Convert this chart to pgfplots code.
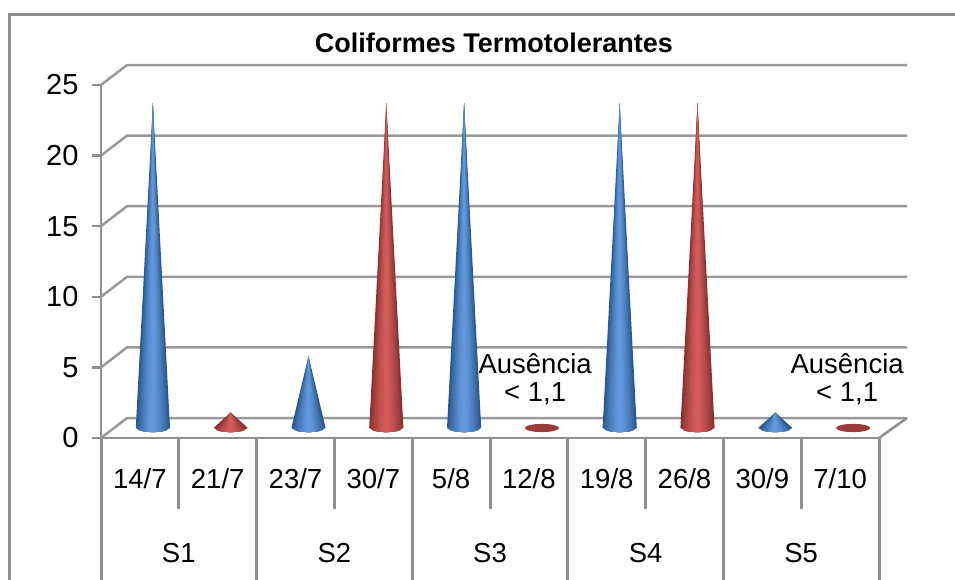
\documentclass[border=0pt]{standalone}
\usepackage{fontspec}
\setmainfont{Liberation Sans}
\usepackage{pgfplots}
\pgfplotsset{compat=1.18}
\definecolor{ax}{HTML}{8E8E8E}
\definecolor{bd}{HTML}{2C5A8E}
\definecolor{bm}{HTML}{6198DC}
\definecolor{rd}{HTML}{8A3331}
\definecolor{rm}{HTML}{D25C59}
\definecolor{rf}{HTML}{963C3A}
\newcommand{\conew}{0.22}
\newcommand{\coneh}{0.29}
% one nested layer: centre, value, fraction of the base, colour
\newcommand{\conelayer}[4]{%
  \pgfmathsetmacro\xa{#1-#3*\conew}\pgfmathsetmacro\xb{#1-0.66*#3*\conew}\pgfmathsetmacro\xc{#1-0.33*#3*\conew}%
  \pgfmathsetmacro\xd{#1+0.33*#3*\conew}\pgfmathsetmacro\xe{#1+0.66*#3*\conew}\pgfmathsetmacro\xf{#1+#3*\conew}%
  \pgfmathsetmacro\ya{-\coneh*sqrt(max(0,1-#3*#3))}%
  \pgfmathsetmacro\yb{-\coneh*sqrt(1-0.4356*#3*#3)}%
  \pgfmathsetmacro\yc{-\coneh*sqrt(1-0.1089*#3*#3)}%
  \addplot[fill=#4,draw=none,forget plot,xshift=13pt,yshift=10pt] coordinates
   {(\xa,\ya)(#1,#2)(\xf,\ya)(\xe,\yb)(\xd,\yc)(#1,-\coneh)(\xc,\yc)(\xb,\yb)};%
}
\newcommand{\cone}[4]{% centre, value, dark, mid
  \conelayer{#1}{#2}{1.00}{#3}%
  \conelayer{#1}{#2}{0.86}{#4!25!#3}%
  \conelayer{#1}{#2}{0.72}{#4!45!#3}%
  \conelayer{#1}{#2}{0.58}{#4!62!#3}%
  \conelayer{#1}{#2}{0.44}{#4!78!#3}%
  \conelayer{#1}{#2}{0.30}{#4!90!#3}%
  \conelayer{#1}{#2}{0.16}{#4}%
}
% a cone of height 0: only its base is seen
\newcommand{\flatcone}[2]{%
  \pgfmathsetmacro\xa{#1-\conew}\pgfmathsetmacro\xb{#1-0.87*\conew}\pgfmathsetmacro\xc{#1-0.5*\conew}%
  \pgfmathsetmacro\xd{#1+0.5*\conew}\pgfmathsetmacro\xe{#1+0.87*\conew}\pgfmathsetmacro\xf{#1+\conew}%
  \pgfmathsetmacro\yb{0.5*\coneh}\pgfmathsetmacro\yc{0.87*\coneh}%
  \addplot[fill=#2,draw=none,forget plot,smooth,xshift=13pt,yshift=10pt] coordinates
   {(\xa,0)(\xb,\yb)(\xc,\yc)(#1,\coneh)(\xd,\yc)(\xe,\yb)(\xf,0)(\xe,-\yb)(\xd,-\yc)(#1,-\coneh)(\xc,-\yc)(\xb,-\yb)(\xa,0)};%
}
\newcommand{\lab}{\fontsize{27.5}{32}\selectfont}
\begin{document}
\begin{tikzpicture}
\useasboundingbox (0,0) rectangle (955pt,580pt);
\begin{axis}[
  at={(101pt,142pt)}, anchor=origin,
  scale only axis, width=778pt, height=353pt,
  xmin=0, xmax=10, ymin=0, ymax=25,
  clip=false, no markers,
  axis lines=left,
  axis line style={draw=ax,line width=2.5pt,-},
  ytick={0,5,10,15,20,25},
  ytick style={draw=ax,line width=2.5pt},
  tick align=outside,
  major tick length=9pt,
  /pgf/number format/assume math mode=true,
  yticklabel style={font=\fontsize{29}{32}\selectfont,xshift=-10pt},
  xtick={0.5,1.5,2.5,3.5,4.5,5.5,6.5,7.5,8.5,9.5},
  xticklabels={14/7,21/7,23/7,30/7,5/8,12/8,19/8,26/8,30/9,7/10},
  xtick style={draw=none},
  xticklabel style={font=\lab,yshift=-18pt},
  extra x ticks={1,3,5,7,9},
  extra x tick labels={S1,S2,S3,S4,S5},
  extra x tick style={tick style={draw=none},tick label style={font=\lab,yshift=-75pt}},
]
% outer frame
\addplot[ax,line width=3pt,forget plot] coordinates {(-1.182,-10.06)(-1.182,30)(10.98,30)};
% back wall grid and the floor
\pgfplotsinvokeforeach{0,5,10,15,20,25}{
  \pgfmathsetmacro\yy{#1+1.416}
  \addplot[ax!90,line width=2.5pt,forget plot] coordinates {(0,#1)(0.334,\yy)(10.36,\yy)};
}
\addplot[ax,line width=2.5pt,forget plot] coordinates {(10,0)(10.36,1.416)};
% separators below the axis
\pgfplotsinvokeforeach{0,2,4,6,8,10}{
  \addplot[ax,line width=3pt,forget plot] coordinates {(#1,0)(#1,-10.06)};
}
\pgfplotsinvokeforeach{1,3,5,7,9}{
  \addplot[ax,line width=3pt,forget plot] coordinates {(#1,0)(#1,-5.03)};
}
% values
\cone{0.5}{23}{bd}{bm}
\cone{1.5}{1.1}{rd}{rm}
\cone{2.5}{5.1}{bd}{bm}
\cone{3.5}{23}{rd}{rm}
\cone{4.5}{23}{bd}{bm}
\flatcone{5.5}{rf}
\cone{6.5}{23}{bd}{bm}
\cone{7.5}{23}{rd}{rm}
\cone{8.5}{1.1}{bd}{bm}
\flatcone{9.5}{rf}
% texts
\node[font=\bfseries\fontsize{27}{32}\selectfont] at (axis cs:5.05,27.97) {Coliformes Termotolerantes};
\node[font=\lab] at (axis cs:5.58,5.3) {Ausência};
\node[font=\lab] at (axis cs:5.58,3.1) {< 1,1};
\node[font=\lab] at (axis cs:9.59,5.3) {Ausência};
\node[font=\lab] at (axis cs:9.59,3.1) {< 1,1};
\end{axis}
\end{tikzpicture}
\end{document}
